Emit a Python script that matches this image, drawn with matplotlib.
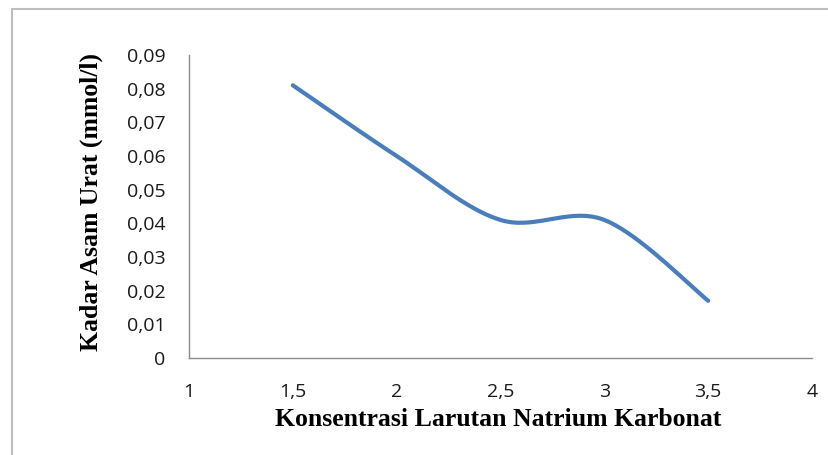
import numpy as np
import matplotlib
matplotlib.use("Agg")
import matplotlib.pyplot as plt
from matplotlib.patches import Rectangle

x_values = [1.5, 2.0, 2.5, 3.0, 3.5]
y_values = [0.081, 0.060, 0.041, 0.041, 0.017]
x_ticks = [1, 1.5, 2, 2.5, 3, 3.5, 4]
x_ticklabels = ["1", "1,5", "2", "2,5", "3", "3,5", "4"]
y_ticks = [0, 0.01, 0.02, 0.03, 0.04, 0.05, 0.06, 0.07, 0.08, 0.09]
y_ticklabels = ["0", "0,01", "0,02", "0,03", "0,04", "0,05", "0,06", "0,07", "0,08", "0,09"]
x_label = "Konsentrasi Larutan Natrium Karbonat"
y_label = "Kadar Asam Urat (mmol/l)"


def excel_smooth(xs, ys, n=60):
    P = np.column_stack([xs, ys]).astype(float)
    out = []
    for i in range(len(P) - 1):
        p0 = P[i - 1] if i > 0 else P[i]
        p1 = P[i]
        p2 = P[i + 1]
        p3 = P[i + 2] if i + 2 < len(P) else P[i + 1]
        c1 = p1 + (p2 - p0) / 6.0
        c2 = p2 - (p3 - p1) / 6.0
        t = np.linspace(0, 1, n)[:, None]
        seg = ((1 - t) ** 3) * p1 + 3 * ((1 - t) ** 2) * t * c1 + 3 * (1 - t) * t ** 2 * c2 + t ** 3 * p2
        out.append(seg if i == 0 else seg[1:])
    arr = np.vstack(out)
    return arr[:, 0], arr[:, 1]


W, H = 829, 455
fig = plt.figure(figsize=(W / 100, H / 100), dpi=100)
fig.patch.set_facecolor("white")

# outer chart frame
fig.patches.append(Rectangle((12 / W, -0.05), 1.2, (H - 9) / H + 0.05,
                             transform=fig.transFigure, fill=False,
                             edgecolor="#bdbdbd", linewidth=1.5))

left, right = 189 / W, 812 / W
bottom, top = 1 - 358 / H, 1 - 55 / H
ax = fig.add_axes([left, bottom, right - left, top - bottom])

sx, sy = excel_smooth(x_values, y_values)
ax.plot(sx, sy, color="#4a7ebb", linewidth=3.0, solid_capstyle="round")

ax.set_xlim(1, 4)
ax.set_ylim(0, 0.09)
ax.set_xticks(x_ticks)
ax.set_xticklabels(x_ticklabels)
ax.set_yticks(y_ticks)
ax.set_yticklabels(y_ticklabels)
ax.tick_params(length=0, labelsize=14, colors="#1a1a1a")
ax.tick_params(axis="x", pad=18)
ax.tick_params(axis="y", pad=17)
for lbl in ax.get_xticklabels() + ax.get_yticklabels():
    lbl.set_family(["Open Sans", "DejaVu Sans"])

for s in ["top", "right"]:
    ax.spines[s].set_visible(False)
for s in ["left", "bottom"]:
    ax.spines[s].set_color("#8c8c8c")
    ax.spines[s].set_linewidth(1.0)

fig.text(498 / W, 1 - 419 / H, x_label, ha="center", va="center",
         fontsize=18.5, fontweight="bold", family=["Liberation Serif", "DejaVu Serif"])
fig.text(91 / W, 1 - 202 / H, y_label, ha="center", va="center", rotation=90,
         fontsize=18.5, fontweight="bold", family=["Liberation Serif", "DejaVu Serif"])

fig.savefig("out.png", dpi=100)
